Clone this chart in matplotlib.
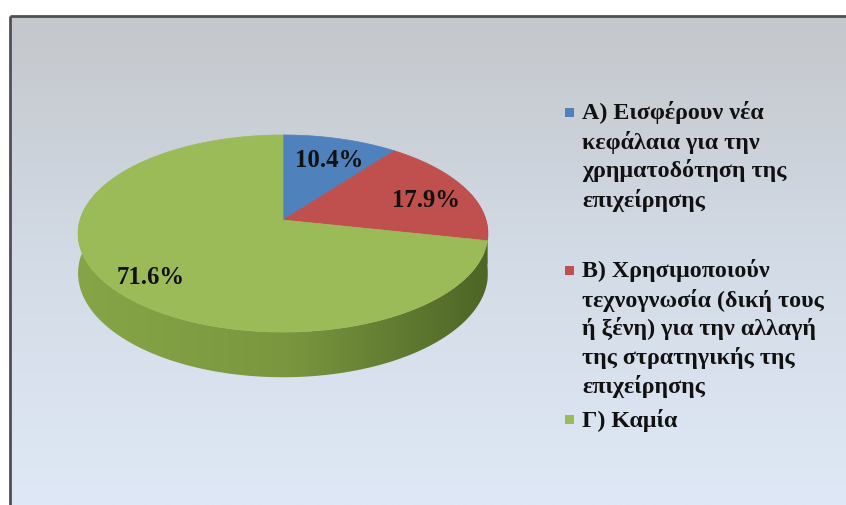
import numpy as np
import matplotlib
matplotlib.use("Agg")
import matplotlib.pyplot as plt
from matplotlib.patches import Polygon, Rectangle
from matplotlib.colors import LinearSegmentedColormap

# ---- data ----
categories = [
    "Α) Εισφέρουν νέα\nκεφάλαια για την\nχρηματοδότηση της\nεπιχείρησης",
    "Β) Χρησιμοποιούν\nτεχνογνωσία (δική τους\nή ξένη) για την αλλαγή\nτης στρατηγικής της\nεπιχείρησης",
    "Γ) Καμία",
]
values = [10.4, 17.9, 71.6]
value_labels = ["10.4%", "17.9%", "71.6%"]
top_colors = ["#4f81bd", "#c0504d", "#9bbb59"]
side_colors = [("#4a74a8", "#2f507a"), ("#a8423f", "#7a2f2d"), ("#86a547", "#7a973f", "#4b6224")]

# ---- figure ----
W, Hh = 846, 505
fig = plt.figure(figsize=(W / 100, Hh / 100), dpi=100)
ax = fig.add_axes([0, 0, 1, 1])
ax.set_xlim(0, W)
ax.set_ylim(Hh, 0)
ax.axis("off")

# background gradient panel
grad = np.linspace(0, 1, 256).reshape(-1, 1)
bg_cmap = LinearSegmentedColormap.from_list("bg", ["#c4c7cb", "#d3dbe6", "#dfe8f6"])
ax.imshow(grad, extent=[10, W, Hh, 16], cmap=bg_cmap, aspect="auto", zorder=0)
ax.plot([10, 10], [Hh, 16], color="#505050", lw=2, zorder=1, solid_capstyle="butt")
ax.plot([10, W], [16, 16], color="#505050", lw=2, zorder=1, solid_capstyle="butt")

# ---- 3D pie geometry (perspective projection of a tilted disc) ----
CX, CY = 283, 220
SX, SY = 203, 96.7
K = 0.137
DEPTH = 39


def proj(th, f=1.0, drop=0.0):
    z = f * np.cos(th)
    x = f * np.sin(th)
    den = 1 + K * z
    return CX + SX * x / den, CY - SY * z / den + drop / den


fr = np.array(values) / np.sum(values)
bounds = np.concatenate([[0], np.cumsum(fr)]) * 2 * np.pi

# sides (front half only)
lo, hi = np.pi / 2 - 0.3, 3 * np.pi / 2 + 0.3
for i in range(len(values)):
    a0, a1 = max(bounds[i], lo), min(bounds[i + 1], hi)
    if a1 <= a0:
        continue
    th = np.linspace(a0, a1, 200)
    xt, yt = proj(th)
    xb, yb = proj(th[::-1], drop=DEPTH)
    pts = np.column_stack([np.concatenate([xt, xb]), np.concatenate([yt, yb])])
    poly = Polygon(pts, closed=True, facecolor="none", edgecolor="none", zorder=2)
    ax.add_patch(poly)
    cmap = LinearSegmentedColormap.from_list("s%d" % i, list(side_colors[i]))
    g = np.linspace(0, 1, 256).reshape(1, -1)
    im = ax.imshow(g, extent=[CX - SX - 5, CX + SX + 15, CY + 160, CY - 120],
                   cmap=cmap, aspect="auto", zorder=2)
    im.set_clip_path(poly)

# top surfaces
for i in range(len(values)):
    th = np.linspace(bounds[i], bounds[i + 1], 300)
    xs, ys = proj(th)
    pts = np.column_stack([np.concatenate([[CX], xs]), np.concatenate([[CY], ys])])
    ax.add_patch(Polygon(pts, closed=True, facecolor=top_colors[i],
                         edgecolor=top_colors[i], lw=0.5, zorder=3))

# data labels
lab_font = dict(family="Liberation Serif", weight="bold", size=17.8, color="#111111")
for i, lab in enumerate(value_labels):
    mid = (bounds[i] + bounds[i + 1]) / 2
    lx, ly = proj(mid, f=0.78, drop=6)
    ax.text(lx, ly, lab, ha="center", va="center", zorder=5, **lab_font)

# legend
leg_font = dict(family="Liberation Serif", weight="bold", size=17.3, color="#111111")
leg_y = [113, 271, 420]
line_h = 29
for i, txt in enumerate(categories):
    ax.add_patch(Rectangle((565, leg_y[i] - 5), 9, 9, facecolor=top_colors[i],
                           edgecolor="none", zorder=5))
    for j, line in enumerate(txt.split("\n")):
        ax.text(582, leg_y[i] + j * line_h, line, ha="left", va="center",
                zorder=5, **leg_font)

fig.savefig("out.png", dpi=100, facecolor="white")
